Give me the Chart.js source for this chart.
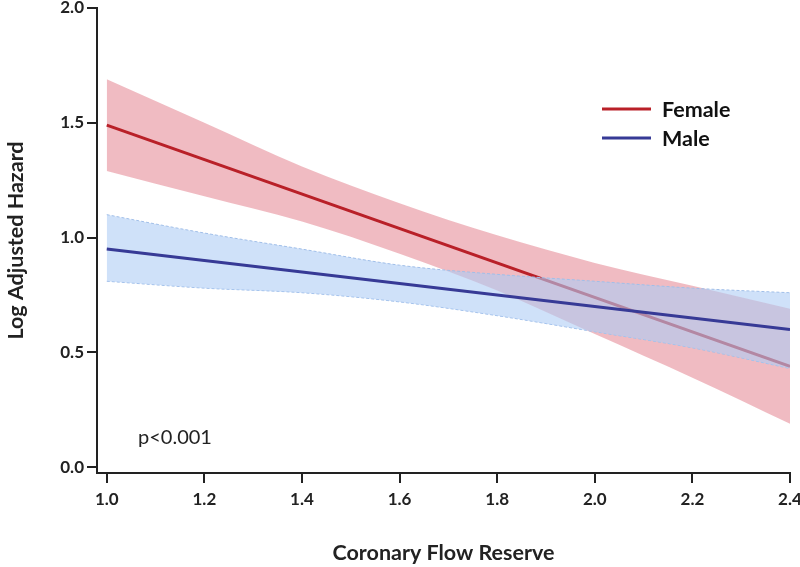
<!DOCTYPE html>
<html>
<head>
<meta charset="utf-8">
<title>Log Adjusted Hazard vs Coronary Flow Reserve</title>
<script src="https://cdn.jsdelivr.net/npm/chart.js@4/dist/chart.umd.min.js"></script>
<style>
    html, body { margin: 0; padding: 0; background: #fff; }
    #chart { display: block; }
</style>
</head>
<body>
<canvas id="chart" width="800" height="567"></canvas>
<script>
// Data
const bandX = [1.0, 1.2, 1.4, 1.6, 1.8, 2.0, 2.2, 2.4];
const fitX = [1.0, 2.4];

const femaleFit = [1.49, 0.44];
const femaleUpper = [1.69, 1.50, 1.31, 1.15, 1.01, 0.89, 0.79, 0.69];
const femaleLower = [1.29, 1.18, 1.07, 0.93, 0.77, 0.58, 0.39, 0.19];

const maleFit = [0.95, 0.60];
const maleUpper = [1.10, 1.02, 0.95, 0.88, 0.84, 0.81, 0.78, 0.76];
const maleLower = [0.81, 0.78, 0.76, 0.72, 0.66, 0.59, 0.52, 0.43];

const xTicks = [1.0, 1.2, 1.4, 1.6, 1.8, 2.0, 2.2, 2.4];
const yTicks = [0.0, 0.5, 1.0, 1.5, 2.0];

const seriesNames = ['Female', 'Male'];
const pText = 'p<0.001';

const RED = 'rgb(185, 32, 40)';
const BLUE = 'rgb(55, 58, 150)';
const FONT = 'Lato, "Open Sans", sans-serif';

const pts = (xs, ys) => xs.map((x, i) => ({ x, y: ys[i] }));

// legend + p value drawn on top of the plot
const annotate = {
    id: 'annotate',
    afterDraw(chart) {
        const ctx = chart.ctx;
        ctx.save();
        const colors = [RED, BLUE];
        const rows = [109, 138];
        ctx.lineWidth = 3;
        ctx.font = 'bold 21.5px ' + FONT;
        ctx.textBaseline = 'middle';
        ctx.fillStyle = '#111';
        seriesNames.forEach((name, i) => {
            ctx.strokeStyle = colors[i];
            ctx.beginPath();
            ctx.moveTo(602, rows[i]);
            ctx.lineTo(651, rows[i]);
            ctx.stroke();
            ctx.fillText(name, 662, rows[i] + 1);
        });
        ctx.font = '20px ' + FONT;
        ctx.textBaseline = 'alphabetic';
        ctx.fillStyle = '#222';
        ctx.fillText(pText, 138, 444);
        ctx.restore();
    }
};

const axisColor = '#222';
const tickFont = { family: FONT, size: 17, weight: 'bold', lineHeight: 1.0 };

new Chart(document.getElementById('chart'), {
    type: 'line',
    data: {
        datasets: [
            {
                label: 'Male',
                data: pts(fitX, maleFit),
                borderColor: BLUE,
                borderWidth: 3,
                pointRadius: 0,
                fill: false,
                order: 1
            },
            {
                label: 'Male upper',
                data: pts(bandX, maleUpper),
                borderColor: 'rgb(160, 190, 232)',
                borderWidth: 1,
                borderDash: [3, 2],
                backgroundColor: 'rgba(175, 205, 245, 0.6)',
                pointRadius: 0,
                cubicInterpolationMode: 'monotone',
                fill: '+1',
                order: 2
            },
            {
                label: 'Male lower',
                data: pts(bandX, maleLower),
                borderColor: 'rgb(160, 190, 232)',
                borderWidth: 1,
                borderDash: [3, 2],
                pointRadius: 0,
                cubicInterpolationMode: 'monotone',
                fill: false,
                order: 2
            },
            {
                label: 'Female',
                data: pts(fitX, femaleFit),
                borderColor: RED,
                borderWidth: 3,
                pointRadius: 0,
                fill: false,
                order: 3
            },
            {
                label: 'Female upper',
                data: pts(bandX, femaleUpper),
                borderWidth: 0,
                borderColor: 'rgba(0,0,0,0)',
                backgroundColor: 'rgba(215, 75, 95, 0.38)',
                pointRadius: 0,
                cubicInterpolationMode: 'monotone',
                fill: '+1',
                order: 4
            },
            {
                label: 'Female lower',
                data: pts(bandX, femaleLower),
                borderWidth: 0,
                borderColor: 'rgba(0,0,0,0)',
                pointRadius: 0,
                cubicInterpolationMode: 'monotone',
                fill: false,
                order: 4
            }
        ]
    },
    options: {
        responsive: false,
        animation: false,
        devicePixelRatio: 1,
        layout: { padding: 0 },
        plugins: {
            legend: { display: false },
            tooltip: { enabled: false }
        },
        scales: {
            x: {
                type: 'linear',
                min: 0.98,
                max: 2.4,
                afterBuildTicks: (scale) => { scale.ticks = xTicks.map(v => ({ value: v })); },
                afterFit: (scale) => {
                    scale.height = 94;
                    scale.paddingLeft = 0;
                    scale.paddingRight = 10;
                },
                border: { display: true, color: axisColor, width: 2 },
                grid: { drawOnChartArea: false, drawTicks: true, tickLength: 10, color: axisColor, lineWidth: 2 },
                ticks: {
                    color: '#222',
                    font: tickFont,
                    padding: 8,
                    maxRotation: 0,
                    callback: (v) => Number(v).toFixed(1)
                },
                title: {
                    display: true,
                    text: 'Coronary Flow Reserve',
                    color: '#222',
                    font: { family: FONT, size: 21.5, weight: 'bold' },
                    padding: { top: 0, bottom: 1 }
                }
            },
            y: {
                type: 'linear',
                min: -0.025,
                max: 2.0,
                afterBuildTicks: (scale) => { scale.ticks = yTicks.map(v => ({ value: v })); },
                afterFit: (scale) => {
                    scale.width = 97;
                    scale.paddingTop = 8;
                    scale.paddingBottom = 0;
                },
                border: { display: true, color: axisColor, width: 2 },
                grid: { drawOnChartArea: false, drawTicks: true, tickLength: 10, color: axisColor, lineWidth: 2 },
                ticks: {
                    color: '#222',
                    font: tickFont,
                    padding: 3,
                    callback: (v) => Number(v).toFixed(1)
                },
                title: {
                    display: true,
                    text: 'Log Adjusted Hazard',
                    color: '#222',
                    font: { family: FONT, size: 21.5, weight: 'bold' },
                    padding: { top: 3, bottom: 0 }
                }
            }
        }
    },
    plugins: [annotate]
});
</script>
</body>
</html>
